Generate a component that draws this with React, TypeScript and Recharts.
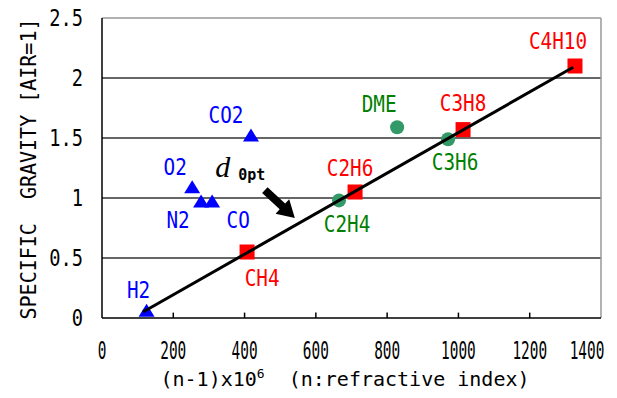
import { ScatterChart, Scatter, XAxis, YAxis, ReferenceLine, ReferenceDot, Label } from 'recharts';

// inorganic gases (blue triangles)
const gasNames = ['H2', 'O2', 'N2', 'CO', 'CO2'];
const gasX = [125, 253, 278, 309, 418];
const gasY = [0.06, 1.09, 0.97, 0.97, 1.52];

// olefins + DME (green circles)
const olefinNames = ['C2H4', 'DME', 'C3H6'];
const olefinX = [665, 828, 971];
const olefinY = [0.98, 1.59, 1.49];

// alkanes (red squares)
const alkaneNames = ['CH4', 'C2H6', 'C3H8', 'C4H10'];
const alkaneX = [407, 710, 1013, 1327];
const alkaneY = [0.55, 1.05, 1.57, 2.1];

// fitted line end points
const fitX = [115, 1322];
const fitY = [0.05, 2.09];

const xTicks = [0, 200, 400, 600, 800, 1000, 1200, 1400];
const yTicks = [0, 0.5, 1, 1.5, 2, 2.5];

const toRows = (names: string[], xs: number[], ys: number[]) =>
  names.map((name, i) => ({ name, x: xs[i], y: ys[i] }));

const gases = toRows(gasNames, gasX, gasY);
const olefins = toRows(olefinNames, olefinX, olefinY);
const alkanes = toRows(alkaneNames, alkaneX, alkaneY);
const fit = fitX.map((x, i) => ({ x, y: fitY[i] }));

// label offset from marker center, px
const labelPos: Record<string, [number, number]> = {
  H2: [-8, -21],
  O2: [-17, -20],
  N2: [-23, 18],
  CO: [26, 18],
  CO2: [-25, -21],
  CH4: [15, 26],
  C2H6: [-5, -24],
  C2H4: [8, 23],
  DME: [-18, -23],
  C3H6: [7, 23],
  C3H8: [0, -27],
  C4H10: [-17, -25],
};

const LABEL_FONT = '"DejaVu Sans Mono", monospace';

const PointLabel = ({ cx, cy, name, color }: any) => {
  const [dx, dy] = labelPos[name] || [0, -20];
  return (
    <text
      transform={`translate(${cx + dx},${cy + dy}) scale(0.92,1.1)`}
      textAnchor="middle"
      dominantBaseline="central"
      fill={color}
      fontFamily={LABEL_FONT}
      fontSize={21}
    >
      {name}
    </text>
  );
};

const Triangle = (props: any) => {
  const { cx, cy, payload } = props;
  return (
    <g>
      <polygon points={`${cx},${cy - 7} ${cx - 8},${cy + 6} ${cx + 8},${cy + 6}`} fill="#0000ff" />
      <PointLabel cx={cx} cy={cy} name={payload.name} color="#0000ff" />
    </g>
  );
};

const Dot = (props: any) => {
  const { cx, cy, payload } = props;
  return (
    <g>
      <circle cx={cx} cy={cy} r={7} fill="#339966" />
      <PointLabel cx={cx} cy={cy} name={payload.name} color="#008000" />
    </g>
  );
};

const Square = (props: any) => {
  const { cx, cy, payload } = props;
  return (
    <g>
      <rect x={cx - 7.5} y={cy - 7.5} width={15} height={15} fill="#ff0000" />
      <PointLabel cx={cx} cy={cy} name={payload.name} color="#ff0000" />
    </g>
  );
};

const XTick = ({ x, y, payload, index }: any) => (
  // last label is pulled in so it stays inside the frame
  <text
    transform={`translate(${index === xTicks.length - 1 ? x - 14 : x},${y}) scale(0.6,1)`}
    textAnchor="middle"
    dy="0.71em"
    fontFamily={LABEL_FONT}
    fontSize={24}
    fill="#000"
  >
    {payload.value}
  </text>
);

const YTick = ({ x, y, payload }: any) => (
  <text
    transform={`translate(${x},${y}) scale(0.85,1.05)`}
    textAnchor="end"
    dy="0.355em"
    fontFamily={LABEL_FONT}
    fontSize={22}
    fill="#000"
  >
    {payload.value}
  </text>
);

const Arrow = ({ cx, cy }: any) => {
  // points back toward upper-left from the tip
  const ang = Math.atan2(-28, -30);
  const ux = Math.cos(ang);
  const uy = Math.sin(ang);
  const px = -uy;
  const py = ux;
  const pt = (a: number, b: number) => `${cx + ux * a + px * b},${cy + uy * a + py * b}`;
  const pts = [pt(0, 0), pt(17, 10), pt(17, 4), pt(41, 4), pt(41, -4), pt(17, -4), pt(17, -10)];
  return <polygon points={pts.join(' ')} fill="#000" />;
};

const DText = ({ cx, cy }: any) => (
  <g>
    <text x={cx - 2} y={cy} fontFamily='"Liberation Serif", serif' fontStyle="italic" fontSize={30} fill="#000">
      d
    </text>
    <text x={cx + 21} y={cy + 3} fontFamily={LABEL_FONT} fontWeight="bold" fontSize={15} fill="#000">
      0pt
    </text>
  </g>
);

const empty = () => <g />;

export default function App() {
  return (
    <div style={{ position: 'absolute', left: 0, top: 0, background: '#fff' }}>
      <ScatterChart width={617} height={398} margin={{ top: 18, right: 16, left: 0, bottom: 0 }}>
        <XAxis
          type="number"
          dataKey="x"
          domain={[0, 1400]}
          ticks={xTicks}
          tickSize={0}
          tickMargin={24}
          tick={<XTick />}
          axisLine={{ stroke: '#000', strokeWidth: 1.5 }}
          height={80}
          allowDataOverflow
        >
          <Label
            content={({ viewBox }: any) => (
              <text
                x={viewBox.x + 243}
                y={viewBox.y + 68}
                textAnchor="middle"
                fontFamily={LABEL_FONT}
                fontSize={20}
                fill="#000"
              >
                (n-1)x10
                <tspan fontSize={13} dy={-8}>6</tspan>
                <tspan dy={8} xmlSpace="preserve">{'  (n:refractive index)'}</tspan>
              </text>
            )}
          />
        </XAxis>
        <YAxis
          type="number"
          dataKey="y"
          domain={[0, 2.5]}
          ticks={yTicks}
          tickSize={0}
          tickMargin={19}
          tick={<YTick />}
          axisLine={{ stroke: '#000', strokeWidth: 1.5 }}
          width={102}
          allowDataOverflow
        >
          <Label
            content={({ viewBox }: any) => (
              <text
                transform={`translate(${viewBox.x + 28},${viewBox.y + 151}) rotate(-90) scale(1,1.1)`}
                textAnchor="middle"
                dominantBaseline="central"
                fontFamily={LABEL_FONT}
                fontSize={20}
                fill="#000"
                style={{ whiteSpace: 'pre' }}
              >
                {'SPECIFIC  GRAVITY [AIR=1]'}
              </text>
            )}
          />
        </YAxis>

        {yTicks.slice(1, -1).map((v) => (
          <ReferenceLine key={`g${v}`} y={v} stroke="#333" strokeWidth={1.5} />
        ))}
        <ReferenceLine y={2.5} stroke="#999" strokeWidth={1.5} />
        <ReferenceLine x={1400} stroke="#999" strokeWidth={1.5} />
        {xTicks.slice(1, -1).map((v) => (
          <ReferenceLine
            key={`t${v}`}
            segment={[
              { x: v, y: 0 },
              { x: v, y: 0.045 },
            ]}
            stroke="#000"
            strokeWidth={1.5}
          />
        ))}

        <Scatter data={gases} shape={<Triangle />} isAnimationActive={false} />
        <Scatter data={olefins} shape={<Dot />} isAnimationActive={false} />
        <Scatter data={alkanes} shape={<Square />} isAnimationActive={false} />
        <Scatter
          data={fit}
          shape={empty}
          line={{ stroke: '#000', strokeWidth: 3 }}
          isAnimationActive={false}
        />

        <ReferenceDot x={323} y={1.175} shape={<DText />} ifOverflow="visible" />
        <ReferenceDot x={541} y={0.833} shape={<Arrow />} ifOverflow="visible" />
      </ScatterChart>
    </div>
  );
}
